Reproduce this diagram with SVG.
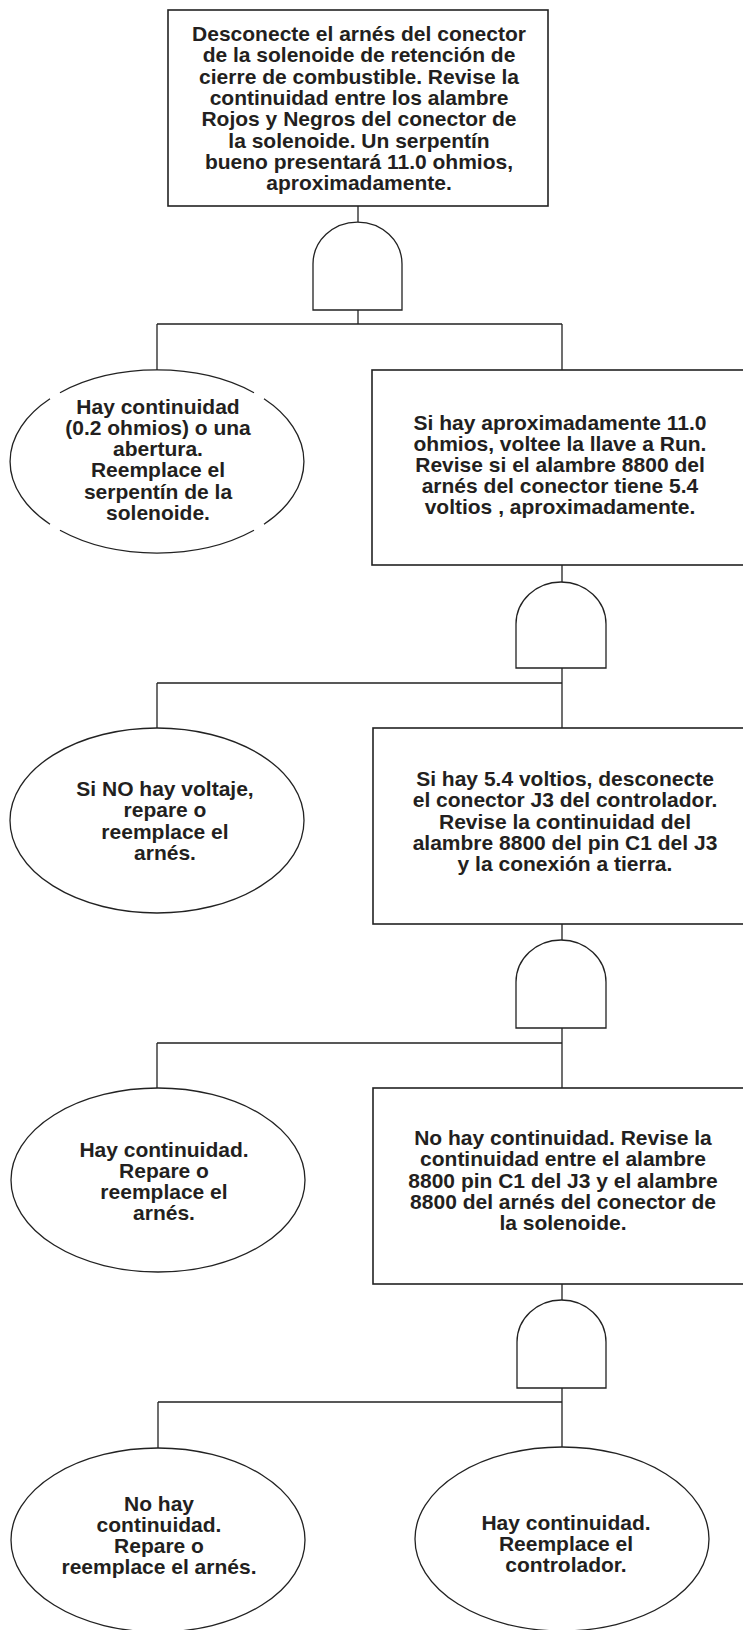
<svg xmlns="http://www.w3.org/2000/svg" width="743" height="1630" viewBox="0 0 743 1630">
<style>
  .box { fill: #fff; stroke: #222; stroke-width: 1.6; }
  .ell { fill: #fff; stroke: #222; stroke-width: 1.3; }
  .gate { fill: #fff; stroke: #222; stroke-width: 1.3; }
  .wire { fill: none; stroke: #222; stroke-width: 1.3; }
  text { font-family: "Liberation Sans", Arial, sans-serif; font-weight: bold; font-size: 21px; fill: #231f20; text-anchor: middle; }
</style>
<rect width="743" height="1630" fill="#fff"/>

<g id="connectors">
  <path class="wire" d="M358,206 V222 M358,310 V324 M157,324 H562 M157,324 V370 M562,324 V370"/>
  <path class="wire" d="M562,565 V582 M562,668 V728 M157,683 H562 M157,683 V728"/>
  <path class="wire" d="M562,924 V940 M562,1028 V1088 M157,1043 H562 M157,1043 V1088"/>
  <path class="wire" d="M562,1284 V1300 M562,1388 V1447 M158,1402 H562 M158,1402 V1448"/>
</g>

<g id="gate1"><path class="gate" d="M313,310 V264 A44.5 42 0 0 1 402,264 V310 Z"/></g>
<g id="gate2"><path class="gate" d="M516,668 V624 A45 42 0 0 1 606,624 V668 Z"/></g>
<g id="gate3"><path class="gate" d="M516,1028 V982 A45 42 0 0 1 606,982 V1028 Z"/></g>
<g id="gate4"><path class="gate" d="M517,1388 V1342 A44.5 42 0 0 1 606,1342 V1388 Z"/></g>

<g id="start">
  <rect class="box" x="168" y="10" width="380" height="196"/>
  <text x="359" y="41">Desconecte el arnés del conector</text>
  <text x="359" y="62.3">de la solenoide de retención de</text>
  <text x="359" y="83.6">cierre de combustible.  Revise la</text>
  <text x="359" y="104.9">continuidad entre los alambre</text>
  <text x="359" y="126.2">Rojos y Negros del conector de</text>
  <text x="359" y="147.5">la solenoide.  Un serpentín</text>
  <text x="359" y="168.8">bueno presentará 11.0 ohmios,</text>
  <text x="359" y="190">aproximadamente.</text>
</g>

<g id="result1">
  <path class="ell" d="M60,392.7 A147 91.5 0 0 1 254,392.7 M264,398.8 A147 91.5 0 0 1 264,524.2 M254,530.3 A147 91.5 0 0 1 60,530.3 M50,524.2 A147 91.5 0 0 1 50,398.8"/>
  <text x="158" y="414">Hay continuidad</text>
  <text x="158" y="435">(0.2 ohmios) o una</text>
  <text x="158" y="456">abertura.</text>
  <text x="158" y="477">Reemplace el</text>
  <text x="158" y="499">serpentín de la</text>
  <text x="158" y="520">solenoide.</text>
</g>

<g id="step2">
  <rect class="box" x="372" y="370" width="380" height="195"/>
  <text x="560" y="430">Si hay aproximadamente 11.0</text>
  <text x="560" y="451">ohmios, voltee la llave a Run.</text>
  <text x="560" y="472">Revise si el alambre 8800 del</text>
  <text x="560" y="493">arnés del conector tiene 5.4</text>
  <text x="560" y="514">voltios , aproximadamente.</text>
</g>

<g id="result2">
  <ellipse class="ell" cx="157" cy="820.5" rx="147" ry="92.5"/>
  <text x="165" y="796">Si NO hay voltaje,</text>
  <text x="165" y="817">repare o</text>
  <text x="165" y="839">reemplace el</text>
  <text x="165" y="860">arnés.</text>
</g>

<g id="step3">
  <rect class="box" x="373" y="728" width="380" height="196"/>
  <text x="565" y="786">Si hay 5.4 voltios, desconecte</text>
  <text x="565" y="807">el conector J3 del controlador.</text>
  <text x="565" y="829">Revise la continuidad del</text>
  <text x="565" y="850">alambre 8800 del pin C1 del J3</text>
  <text x="565" y="871">y la conexión a tierra.</text>
</g>

<g id="result3">
  <ellipse class="ell" cx="158" cy="1180" rx="147" ry="92"/>
  <text x="164" y="1157">Hay continuidad.</text>
  <text x="164" y="1178">Repare o</text>
  <text x="164" y="1199">reemplace el</text>
  <text x="164" y="1220">arnés.</text>
</g>

<g id="step4">
  <rect class="box" x="373" y="1088" width="380" height="196"/>
  <text x="563" y="1145">No hay continuidad. Revise la</text>
  <text x="563" y="1166">continuidad entre el alambre</text>
  <text x="563" y="1188">8800 pin C1 del J3 y el alambre</text>
  <text x="563" y="1209">8800 del arnés del conector de</text>
  <text x="563" y="1230">la solenoide.</text>
</g>

<g id="result4">
  <ellipse class="ell" cx="158" cy="1540" rx="147" ry="92"/>
  <text x="159" y="1511">No hay</text>
  <text x="159" y="1532">continuidad.</text>
  <text x="159" y="1553">Repare o</text>
  <text x="159" y="1574">reemplace el arnés.</text>
</g>

<g id="result5">
  <ellipse class="ell" cx="562" cy="1539" rx="147" ry="92"/>
  <text x="566" y="1530">Hay continuidad.</text>
  <text x="566" y="1551">Reemplace el</text>
  <text x="566" y="1572">controlador.</text>
</g>
</svg>
